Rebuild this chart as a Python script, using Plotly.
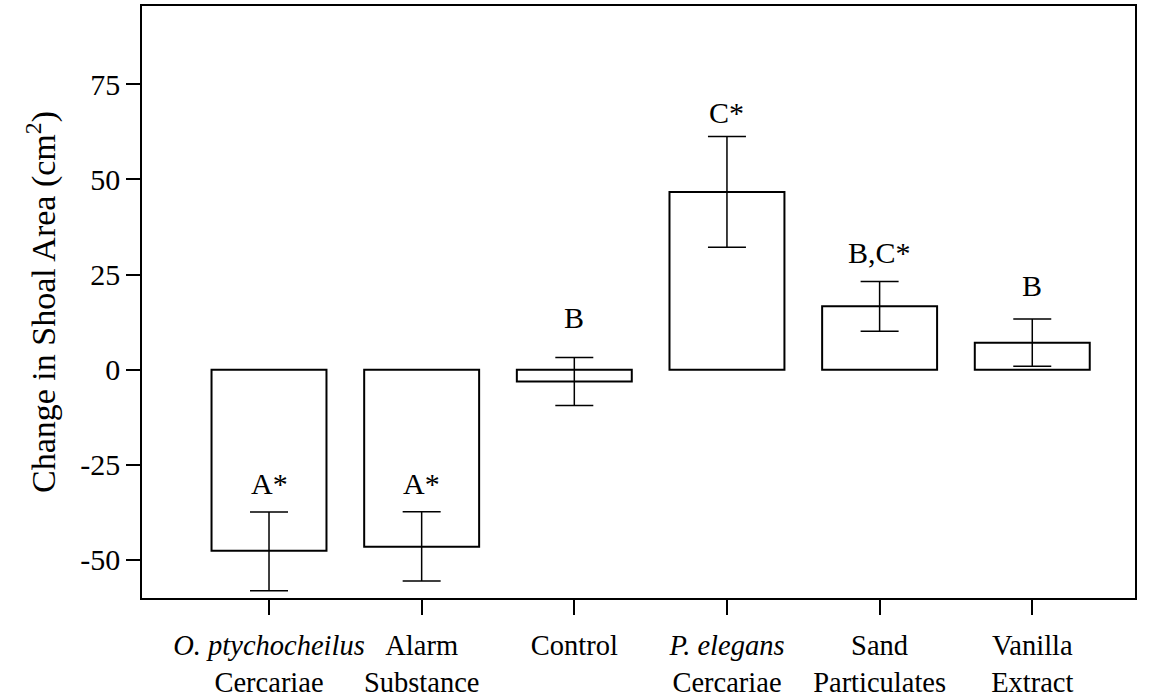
import plotly.graph_objects as go

categories = ["<i>O. ptychocheilus</i><br>Cercariae", "Alarm<br>Substance", "Control",
              "<i>P. elegans</i><br>Cercariae", "Sand<br>Particulates", "Vanilla<br>Extract"]
means = [-47.6, -46.5, -3.1, 46.7, 16.7, 7.1]
err_upper = [-37.4, -37.3, 3.2, 61.3, 23.2, 13.3]
err_lower = [-58.1, -55.5, -9.4, 32.2, 10.1, 0.9]
letters = ["A*", "A*", "B", "C*", "B,C*", "B"]
letter_y = [-29.8, -29.8, 13.8, 67.5, 30.9, 22.1]
y_ticks = [-50, -25, 0, 25, 50, 75]
y_tick_labels = ["-50", "-25", "0", "25", "50", "75"]

xs = list(range(len(categories)))
plus = [u - m for u, m in zip(err_upper, means)]
minus = [m - l for m, l in zip(means, err_lower)]

FONT = "Liberation Serif, Times New Roman, serif"

fig = go.Figure()
fig.add_trace(go.Bar(
    x=xs, y=means, width=0.753,
    marker=dict(color="white", line=dict(color="black", width=2)),
    error_y=dict(type="data", symmetric=False, array=plus, arrayminus=minus,
                 color="black", thickness=1.5, width=19),
    showlegend=False,
))

for x, t, y in zip(xs, letters, letter_y):
    fig.add_annotation(x=x, y=y, text=t, showarrow=False,
                       font=dict(family=FONT, size=30, color="black"),
                       xanchor="center", yanchor="middle")

fig.update_layout(
    width=1154, height=700,
    margin=dict(l=142, r=19, t=6, b=102),
    paper_bgcolor="white", plot_bgcolor="white",
    font=dict(family=FONT, size=29, color="black"),
)
fig.update_xaxes(
    range=[-0.832, 5.673], tickvals=xs, ticktext=categories, tickangle=0,
    showline=True, linecolor="black", linewidth=1.5, mirror=True,
    ticks="outside", ticklen=15, tickwidth=1.5, tickcolor="black",
    showgrid=False, zeroline=False, automargin=False, ticklabelstandoff=6,
    tickfont=dict(family=FONT, size=28.5, color="black"),
)
fig.update_yaxes(
    range=[-60, 95.6], tickvals=y_ticks, ticktext=y_tick_labels,
    showline=True, linecolor="black", linewidth=1.5, mirror=True,
    ticks="outside", ticklen=14, tickwidth=1.5, tickcolor="black",
    showgrid=False, zeroline=False, automargin=False,
    tickfont=dict(family=FONT, size=30, color="black"),
    title=dict(text="Change in Shoal Area (cm<sup>2</sup>)",
               font=dict(family=FONT, size=34, color="black"), standoff=14),
)

fig.write_html("out.html", config={"displayModeBar": False},
               post_script="document.body.style.margin='0px';")
